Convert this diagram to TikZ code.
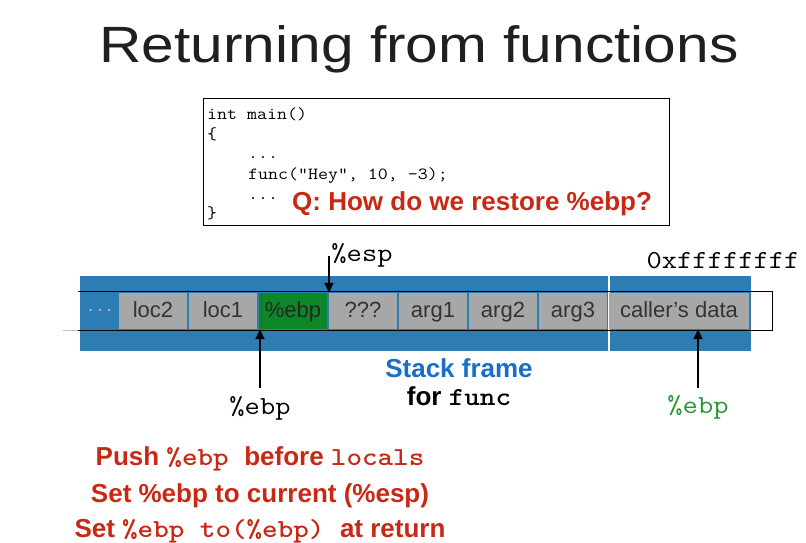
\documentclass[tikz,border=0pt]{standalone}
\usepackage{fontspec}
\setmainfont{Liberation Sans}
\usepackage{graphicx}
\usetikzlibrary{arrows.meta}

\definecolor{stackblue}{RGB}{46,124,180}
\definecolor{cellgray}{RGB}{165,168,167}
\definecolor{ebpgreen}{RGB}{12,135,40}
\definecolor{alertred}{RGB}{200,40,20}
\definecolor{framelabel}{RGB}{24,110,200}
\definecolor{labgreen}{RGB}{40,150,50}

% pixel-sized fonts and a Courier-wide monospace
\newcommand\pxsize[1]{\fontsize{#1}{#1}\selectfont}
\newcommand\monow[1]{\scalebox{1.14}[1]{\ttfamily #1}}

\begin{document}
\begin{tikzpicture}[x=1pt,y=-1pt,
  txt/.style={inner sep=0pt},
  codeline/.style={txt, anchor=base west, font=\pxsize{17}},
  lab/.style={txt, anchor=base, font=\pxsize{26}},
  alert/.style={txt, anchor=base, font=\bfseries\pxsize{26}, text=alertred},
  bluebox/.style={fill=stackblue, inner sep=0pt, anchor=north west},
  cell/.style={fill=cellgray, minimum width=68pt, minimum height=36pt,
    text height=16pt, text depth=4pt,
    inner sep=0pt, font=\pxsize{22}, text=black!80},
  arr/.style={line width=1.6pt, -{Triangle[width=9pt,length=10pt]}}]

\useasboundingbox (0,0) rectangle (806,543);

% heading
\node[txt, anchor=base, text=black!88] (title) at (419,63)
  {\scalebox{1.15}[1]{\pxsize{51}Returning from functions}};

% caller code
\node[draw, line width=0.9pt, minimum width=466pt, minimum height=127pt,
  inner sep=0pt, anchor=north west] (codebox) at (203,98) {};
\node[codeline] (l1) at (207,119) {\monow{int main()}};
\node[codeline] (l2) at (207,139) {\monow{\{}};
\node[codeline] (l3) at (248,158) {\monow{...}};
\node[codeline] (l4) at (248,179) {\monow{func(“Hey”, 10, -3);}};
\node[codeline] (l5) at (248,199) {\monow{...}};
\node[codeline] (l6) at (207,218) {\monow{\}}};
\node[alert, anchor=base west] (q) at (292,210) {Q: How do we restore \%ebp?};

% stack background regions
\node[bluebox, minimum width=528pt, minimum height=75pt] (framebg) at (80,276) {};
\node[bluebox, minimum width=141pt, minimum height=75pt] (callerbg) at (610,276) {};

% memory strip outline
\draw[line width=1pt] (78,291.5) -- (772,291.5) -- (772,330.5) -- (78,330.5);
\draw[black!25, line width=0.8pt] (63,330.5) -- (78,330.5);

% stack slots
\node[txt, text=black!22, font=\pxsize{22}] (dots) at (100,311) {$\cdots$};
\node[cell] (loc2) at (153,311) {loc2};
\node[cell] (loc1) at (223,311) {loc1};
\node[cell, fill=ebpgreen, text=black!85] (ebp) at (293,311) {\%ebp};
\node[cell] (qq) at (363,311) {???};
\node[cell] (arg1) at (433,311) {arg1};
\node[cell] (arg2) at (503,311) {arg2};
\node[cell] (arg3) at (573,311) {arg3};
\node[cell, minimum width=140pt] (caller) at (679,311) {caller’s data};

% address label
\node[lab] (topaddr) at (723,268) {\monow{0xffffffff}};

% stack pointer
\node[lab] (esplab) at (362,261) {\monow{\%esp}};
\coordinate (espfrom) at (329,256);
\draw[arr] (espfrom) -- (espfrom |- qq.north);

% frame pointer
\node[lab] (ebplab) at (260,414) {\monow{\%ebp}};
\coordinate (ebpfrom) at (260,388);
\draw[arr] (ebpfrom) -- (ebpfrom |- ebp.south);

% caller's frame pointer
\node[lab, text=labgreen] (calllab) at (698,413) {\monow{\%ebp}};
\coordinate (callfrom) at (698,388);
\draw[arr] (callfrom) -- (callfrom |- caller.south);

% frame caption
\node[txt, anchor=base, font=\bfseries\pxsize{26}, text=framelabel] (sf) at (459,377) {Stack frame};
\node[txt, anchor=base, font=\bfseries\pxsize{26}] (ff) at (459,405) {for \monow{func}};

% steps
\node[alert] (r1) at (260,465) {Push \monow{\%ebp\ }before \monow{locals}};
\node[alert] (r2) at (260,502) {Set \%ebp to current (\%esp)};
\node[alert] (r3) at (260,537) {Set \monow{\%ebp to(\%ebp)\ }at return};

\end{tikzpicture}
\end{document}
